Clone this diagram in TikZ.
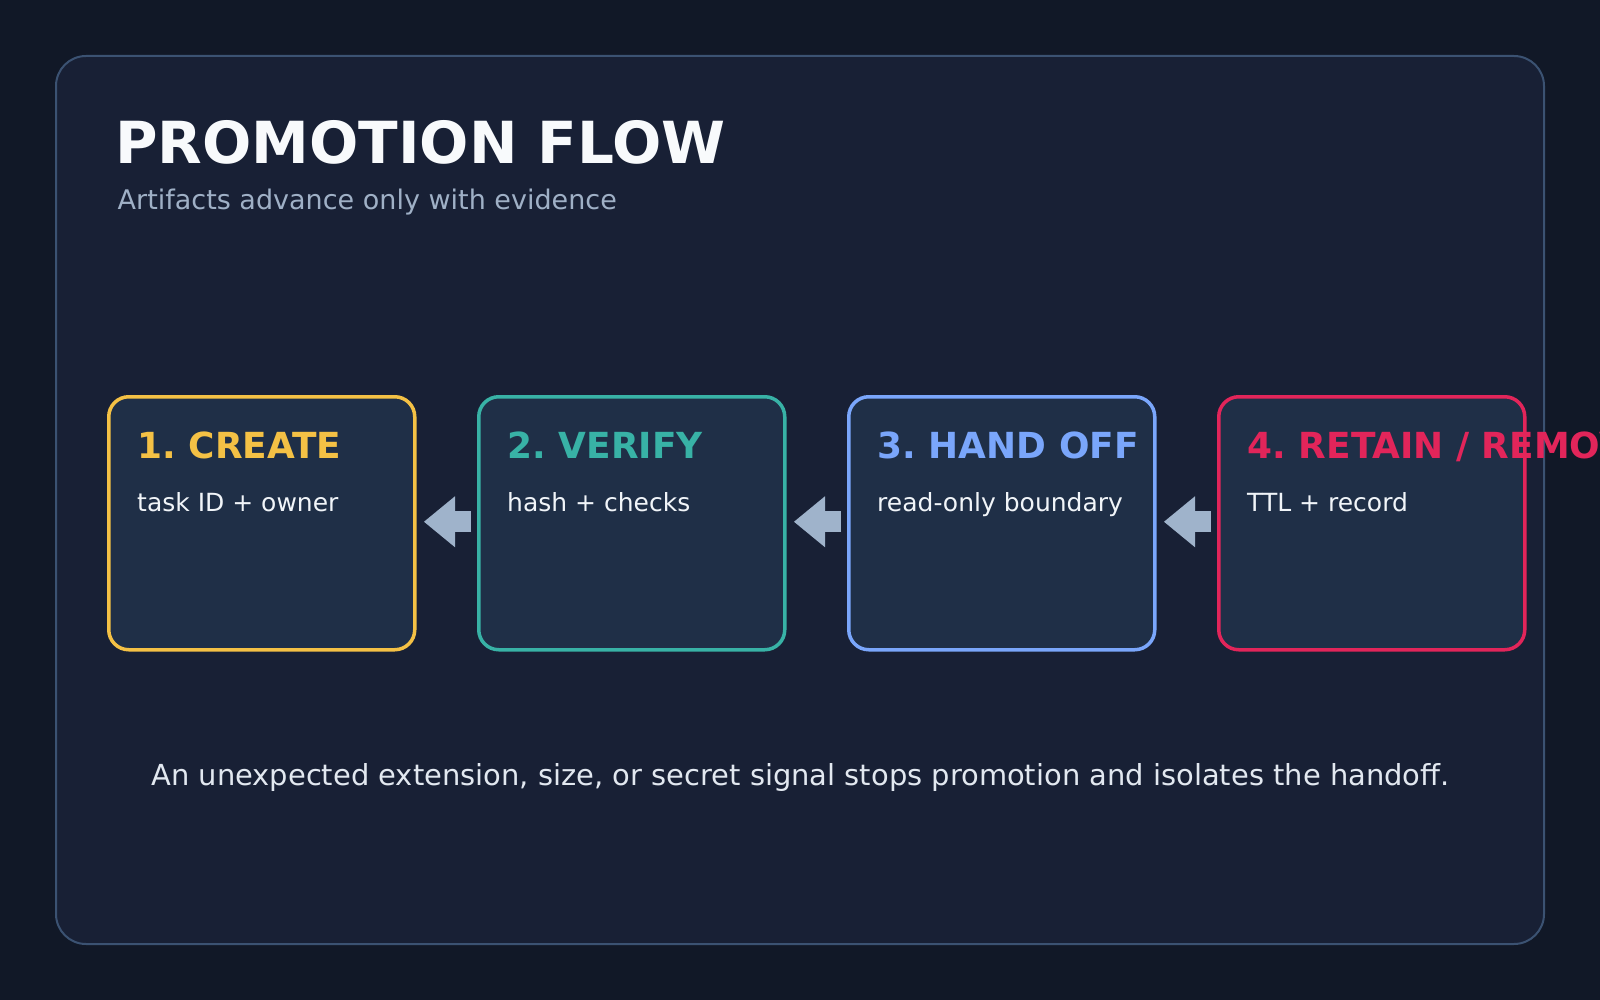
\documentclass[tikz,border=0pt]{standalone}
\usepackage{fontspec}
\setmainfont{DejaVu Sans}
\usetikzlibrary{arrows.meta,calc}
\definecolor{bgc}{HTML}{111827}
\definecolor{panelfill}{HTML}{182035}
\definecolor{panelline}{HTML}{3B5272}
\definecolor{boxfill}{HTML}{1F2F47}
\definecolor{arrowc}{HTML}{9FB3CB}
\definecolor{cyellow}{HTML}{F4C145}
\definecolor{cteal}{HTML}{38B2A6}
\definecolor{cblue}{HTML}{7AA6FB}
\definecolor{cred}{HTML}{E2255A}
\definecolor{titlec}{HTML}{F8FAFC}
\definecolor{subc}{HTML}{9FB0C6}
\definecolor{bodyc}{HTML}{F1F5F9}
\definecolor{footc}{HTML}{E2E8F0}
\tikzset{
  stagebox/.style={anchor=north west, minimum width=306pt, minimum height=253pt,
    rounded corners=20pt, fill=boxfill, line width=3.5pt, inner sep=0pt},
  stagetitle/.style={anchor=base west, inner sep=0pt,
    font=\fontsize{35.9}{42}\selectfont\bfseries},
  stagebody/.style={anchor=base west, inner sep=0pt, text=bodyc,
    font=\fontsize{25}{30}\selectfont},
  flowarrow/.style={arrowc, line width=21pt,
    -{Triangle[length=31pt, width=51pt, line width=0pt]},
    shorten >=7.5pt, shorten <=6pt},
}
\frenchspacing
\begin{document}
\begin{tikzpicture}[x=1pt,y=-1pt]
\useasboundingbox (0,0) rectangle (1600,1000);
\clip (0,0) rectangle (1600,1000);
\fill[bgc] (0,0) rectangle (1600,1000);
\draw[panelline, fill=panelfill, line width=2pt, rounded corners=30pt] (56,56) rectangle (1544,944);

\node[anchor=base west, inner sep=0pt, text=titlec, font=\fontsize{58}{66}\selectfont\bfseries] (title) at (115,163.3) {PROMOTION FLOW};
\node[anchor=base west, inner sep=0pt, text=subc, font=\fontsize{27}{32}\selectfont] (subtitle) at (117.5,210) {Artifacts advance only with evidence};

\node[stagebox, draw=cyellow] (b1) at (107,395) {};
\node[stagebox, draw=cteal]   (b2) at (477,395) {};
\node[stagebox, draw=cblue]   (b3) at (847,395) {};
\node[stagebox, draw=cred]    (b4) at (1217,395) {};

\node[stagetitle, text=cyellow] (t1) at ($(b1.north west)+(30.5,63.3)$) {1. CREATE};
\node[stagetitle, text=cteal]   (t2) at ($(b2.north west)+(30.5,63.3)$) {2. VERIFY};
\node[stagetitle, text=cblue]   (t3) at ($(b3.north west)+(30.5,63.3)$) {3. HAND OFF};
\node[stagetitle, text=cred]    (t4) at ($(b4.north west)+(30.5,63.3)$) {4. RETAIN / REMOVE};

\node[stagebody] (d1) at ($(b1.north west)+(30,116.5)$) {task ID + owner};
\node[stagebody] (d2) at ($(b2.north west)+(30,116.5)$) {hash + checks};
\node[stagebody] (d3) at ($(b3.north west)+(30,116.5)$) {read-only boundary};
\node[stagebody] (d4) at ($(b4.north west)+(30,116.5)$) {TTL + record};

\draw[flowarrow] ([yshift=1.5pt]b2.west) -- ([yshift=1.5pt]b1.east);
\draw[flowarrow] ([yshift=1.5pt]b3.west) -- ([yshift=1.5pt]b2.east);
\draw[flowarrow] ([yshift=1.5pt]b4.west) -- ([yshift=1.5pt]b3.east);

\node[anchor=base, inner sep=0pt, text=footc, font=\fontsize{28.95}{34}\selectfont] (foot) at (800.5,785) {An unexpected extension, size, or secret signal stops promotion and isolates the handoff.};
\end{tikzpicture}
\end{document}
